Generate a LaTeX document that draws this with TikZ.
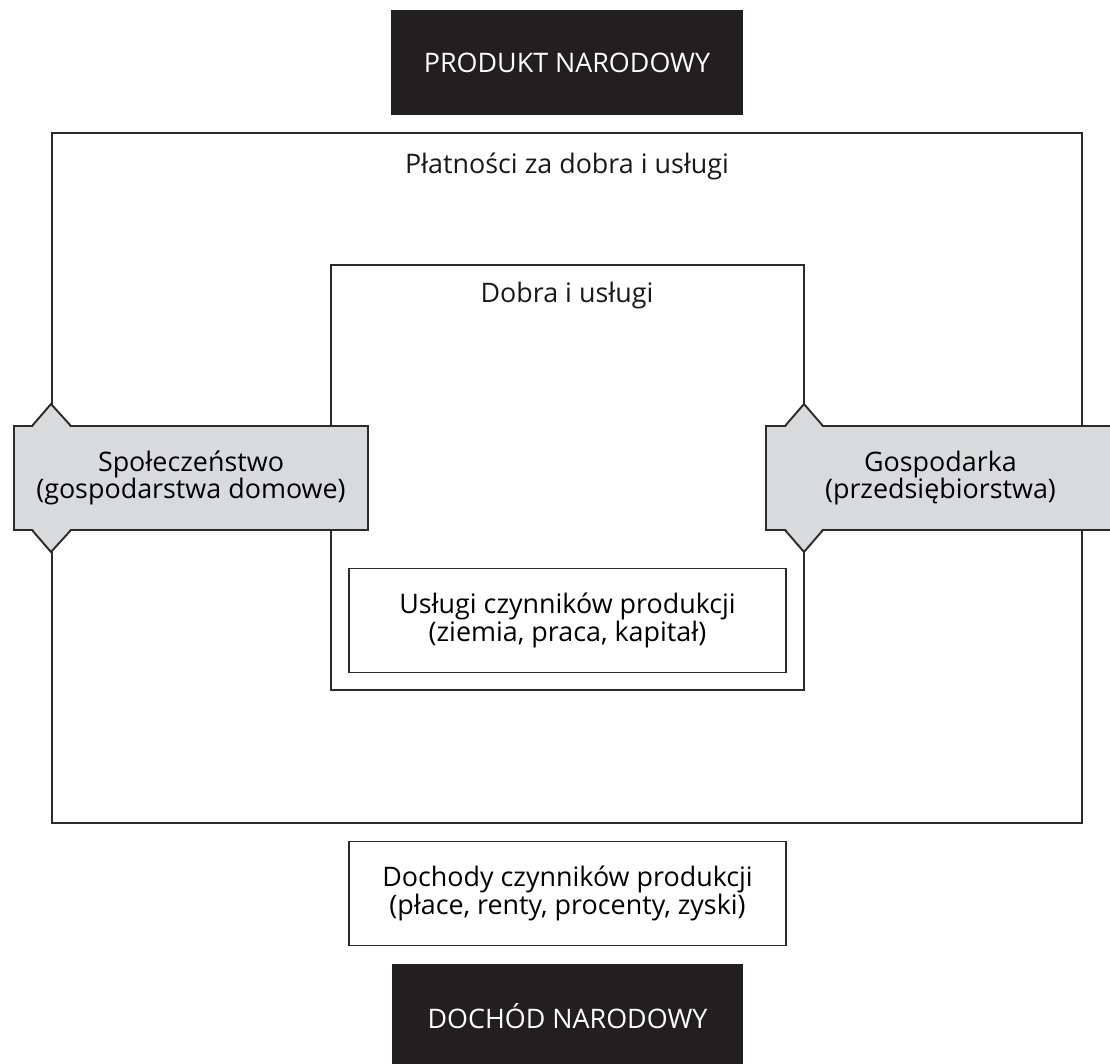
\documentclass[tikz,border=0pt]{standalone}
\usepackage{fontspec}
\setmainfont{Open Sans}
\usepackage{xcolor}
\usepackage{tikz}
\usetikzlibrary{positioning}
\definecolor{ciemny}{HTML}{231F20}
\definecolor{szary}{HTML}{D9DADB}
\definecolor{linia}{HTML}{2B2B2B}
\tikzstyle{naglowek} = [rectangle, minimum width=7.04cm, minimum height=2.1cm, fill=ciemny, text=white, text centered]
\tikzstyle{rama} = [rectangle, draw=linia, line width=1.1pt]
\tikzstyle{ramka} = [rectangle, draw=linia, line width=1.1pt, minimum width=8.74cm, minimum height=2.08cm, align=center, fill=white]
\tikzstyle{sektor} = [rectangle, draw=linia, line width=1.1pt, fill=szary, minimum height=2.08cm, align=center]
\tikzstyle{grot} = [draw=linia, line width=1.1pt, line join=miter]
\tikzstyle{etykieta} = [text=black!90]

\begin{document}
\begin{tikzpicture}[x=0.02cm, y=-0.02cm, font=\fontsize{15.3}{15.8}\selectfont]
    \useasboundingbox (0,0) rectangle (1110,1063);
    % Loops
    \node [rama, minimum width=20.6cm, minimum height=13.8cm] (obieg) at (567,478) {};
    \node [rama, minimum width=9.46cm, minimum height=8.5cm] (rynek) at (567.5,477.5) {};
    \node [etykieta] (platnosci) at (567,166) {Płatności za dobra i usługi};
    \node [etykieta] (dobra) at (567,296) {Dobra i usługi};

    % Nodes
    \node [naglowek] (produkt) at (567,62.5) {PRODUKT NARODOWY};
    \node [ramka] (czynniki) at (567.5,620.5) {Usługi czynników produkcji\\(ziemia, praca, kapitał)};
    \node [ramka] (dochody) at (567.5,893.5) {Dochody czynników produkcji\\(płace, renty, procenty, zyski)};
    \node [naglowek] (dochod) at (567.5,1016) {DOCHÓD NARODOWY};
    \node [sektor, minimum width=7.08cm] (spol) at (191,478) {Społeczeństwo\\(gospodarstwa domowe)};
    \node [sektor, minimum width=6.98cm] (gosp) at (940.5,478) {Gospodarka\\(przedsiębiorstwa)};

    % Tips
    \fill [szary] (32,428) -- (51,404) -- (71,428) -- cycle;
    \draw [grot] (32,426) -- (51,404) -- (71,426);
    \fill [szary] (32,528) -- (51,552) -- (71,528) -- cycle;
    \draw [grot] (32,530) -- (51,552) -- (71,530);
    \fill [szary] (785,428) -- (804,404) -- (823,428) -- cycle;
    \draw [grot] (785,426) -- (804,404) -- (823,426);
    \fill [szary] (785,528) -- (804,552) -- (823,528) -- cycle;
    \draw [grot] (785,530) -- (804,552) -- (823,530);
\end{tikzpicture}
\end{document}
